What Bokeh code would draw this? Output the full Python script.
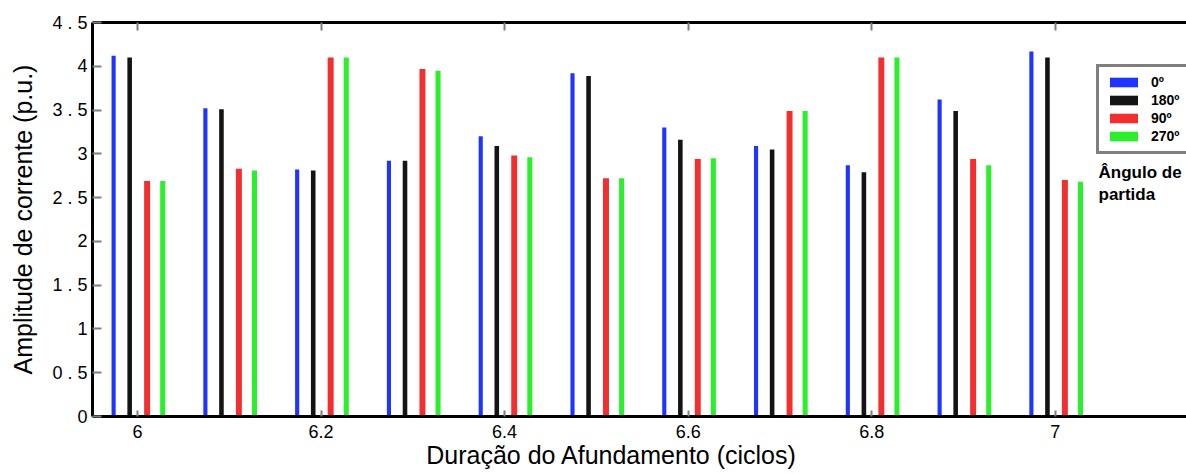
from bokeh.plotting import figure
from bokeh.models import (Range1d, FixedTicker, LinearAxis, Legend, LegendItem,
                          Label, ColumnDataSource)
from bokeh.transform import dodge
from bokeh.embed import file_html
from bokeh.resources import INLINE

# ---- data ----
duracao = [6.0, 6.1, 6.2, 6.3, 6.4, 6.5, 6.6, 6.7, 6.8, 6.9, 7.0]
ang_0 = [4.12, 3.52, 2.82, 2.92, 3.20, 3.92, 3.30, 3.09, 2.87, 3.62, 4.17]
ang_180 = [4.10, 3.51, 2.81, 2.92, 3.09, 3.89, 3.16, 3.05, 2.79, 3.49, 4.10]
ang_90 = [2.69, 2.83, 4.10, 3.97, 2.98, 2.72, 2.94, 3.49, 4.10, 2.94, 2.70]
ang_270 = [2.69, 2.81, 4.10, 3.95, 2.96, 2.72, 2.95, 3.49, 4.10, 2.87, 2.68]
legend_labels = ["0º", "180º", "90º", "270º"]
x_ticks = [6, 6.2, 6.4, 6.6, 6.8, 7]
x_tick_labels = ["6", "6.2", "6.4", "6.6", "6.8", "7"]
y_ticks = [0, 0.5, 1, 1.5, 2, 2.5, 3, 3.5, 4, 4.5]
y_tick_labels = ["0", "0 . 5", "1", "1 . 5", "2", "2 . 5", "3", "3 . 5", "4", "4 . 5"]
x_title = "Duração do Afundamento (ciclos)"
y_title = "Amplitude de corrente (p.u.)"
legend_title = ["Ângulo de", "partida"]

src = ColumnDataSource(dict(x=duracao, a0=ang_0, a180=ang_180, a90=ang_90, a270=ang_270))

FONT = "Liberation Sans"

p = figure(width=1186, height=474, output_backend="svg", toolbar_location=None,
           x_range=Range1d(5.951, 7.143), y_range=Range1d(0, 4.5),
           min_border_left=92, min_border_right=0, min_border_top=22,
           min_border_bottom=58, background_fill_color="white",
           border_fill_color="white", outline_line_color=None)
p.xgrid.visible = False
p.ygrid.visible = False

series = [
    ("a0", -0.026, 0.0045, "#1f35ff"),
    ("a180", -0.0085, 0.005, "#141414"),
    ("a90", 0.0105, 0.0065, "#f22f2f"),
    ("a270", 0.0275, 0.0055, "#2bef2b"),
]
renderers = []
for col, off, w, color in series:
    r = p.vbar(x=dodge("x", off, range=p.x_range), top=col, bottom=0, width=w,
               source=src, fill_color=color, line_color=None)
    renderers.append(r)

tick_color = "#7b8079"

# bottom axis
xa = p.xaxis[0]
xa.ticker = FixedTicker(ticks=x_ticks)
xa.major_label_overrides = {t: l for t, l in zip(x_ticks, x_tick_labels)}
xa.axis_line_color = "black"
xa.axis_line_width = 3
xa.major_tick_in = 6
xa.major_tick_out = 0
xa.major_tick_line_color = tick_color
xa.major_tick_line_width = 2
xa.minor_tick_line_color = None
xa.major_label_standoff = 8
xa.major_label_text_font = FONT
xa.major_label_text_font_size = "18px"
xa.major_label_text_color = "black"
# trailing no-break spaces shift the centred title left, as in the reference
xa.axis_label = x_title + "\u00a0" * 8
xa.axis_label_text_font = FONT
xa.axis_label_text_font_size = "25px"
xa.axis_label_text_font_style = "normal"
xa.axis_label_text_color = "black"
xa.axis_label_standoff = 0

# left axis
ya = p.yaxis[0]
ya.ticker = FixedTicker(ticks=y_ticks)
ya.major_label_overrides = {t: l for t, l in zip(y_ticks, y_tick_labels)}
ya.axis_line_color = "black"
ya.axis_line_width = 3
ya.major_tick_in = 9
ya.major_tick_out = 0
ya.major_tick_line_color = tick_color
ya.major_tick_line_width = 2
ya.minor_tick_line_color = None
ya.major_label_standoff = 5
ya.major_label_text_font = FONT
ya.major_label_text_font_size = "18px"
ya.major_label_text_color = "black"
ya.axis_label = y_title
ya.axis_label_text_font = FONT
ya.axis_label_text_font_size = "25px"
ya.axis_label_text_font_style = "normal"
ya.axis_label_text_color = "black"
ya.axis_label_standoff = 12

# top axis (frame line with inward ticks, no labels)
top = LinearAxis(ticker=FixedTicker(ticks=x_ticks), axis_line_color="black",
                 axis_line_width=3, major_tick_in=8, major_tick_out=0,
                 major_tick_line_color=tick_color, major_tick_line_width=2,
                 minor_tick_line_color=None, major_label_standoff=0,
                 major_label_overrides={t: "" for t in x_ticks})
p.add_layout(top, "above")

# legend
items = [LegendItem(label=lab, renderers=[r]) for lab, r in zip(legend_labels, renderers)]
leg = Legend(items=items, location=(1004, 262), orientation="vertical",
             border_line_color="black", border_line_width=3,
             background_fill_color="white", background_fill_alpha=1,
             label_text_font=FONT, label_text_font_style="bold",
             label_text_font_size="14px", label_text_color="black",
             glyph_width=35, glyph_height=12, label_height=16, label_width=52,
             label_standoff=10, padding=7, spacing=2, margin=0)
p.add_layout(leg, "center")

for i, txt in enumerate(legend_title):
    p.add_layout(Label(x=1006, y=244 - 22 * i, x_units="screen", y_units="screen",
                       text=txt, text_font=FONT, text_font_style="bold",
                       text_font_size="17px", text_color="black",
                       text_baseline="alphabetic"))

open("out.html", "w").write(file_html(p, INLINE))
